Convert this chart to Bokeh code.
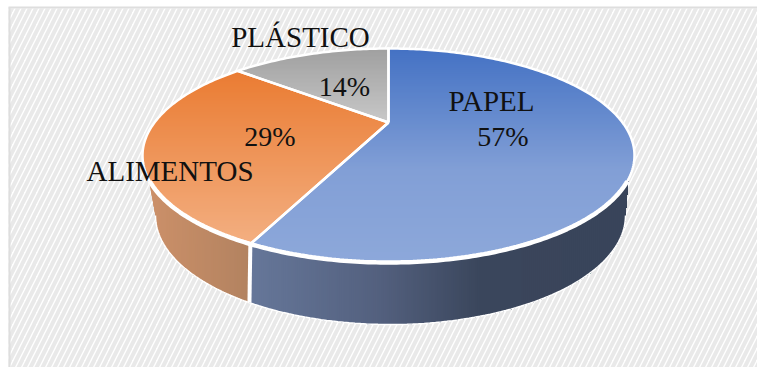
import math
from bokeh.plotting import figure
from bokeh.models import Range1d
from bokeh.core.properties import value
from bokeh.embed import file_html
from bokeh.resources import INLINE

# ---- data
categories = ["PAPEL", "ALIMENTOS", "PLÁSTICO"]
shares = [57, 29, 14]

# ---- layout / style (image pixel space)
TOP = dict(cx=388.0, cy=155.0, rx=246.0, ry=107.0, d=0.308)
LOW = dict(cx=390.0, cy=215.0, rx=235.0, ry=109.0, d=0.38)
TOP_STOPS = {
    "PAPEL": [(49, "#4472C4"), (170, "#829FD6"), (263, "#8DA8DA")],
    "ALIMENTOS": [(72, "#EA7C33"), (240, "#F3AE80")],
    "PLÁSTICO": [(49, "#A0A0A0"), (122, "#C8C8C8")],
}
SIDE_STOPS = {
    "PAPEL": [(250, "#667799"), (380, "#53607E"), (480, "#3A465C"), (640, "#39445A")],
    "ALIMENTOS": [(147, "#CC9069"), (252, "#B28260")],
}
SIDE_PHI = {"PAPEL": (103.0, 90.0), "ALIMENTOS": (257.0, 270.0)}
RIM_PHI = (104.0, 256.0)
LABEL_POS = {"PAPEL": (491, 100), "ALIMENTOS": (169.5, 170), "PLÁSTICO": (300, 36)}
PCT_POS = {"PAPEL": (502.5, 136), "ALIMENTOS": (269.5, 136), "PLÁSTICO": (344, 86)}
FONT = value("Liberation Serif")
NAME_SIZE = "29px"
PCT_SIZE = "28px"


def ell(g, X, Y):
    return (g["cx"] + g["rx"] * X, g["cy"] - g["ry"] * Y)


def to_disc(g, theta):
    """Pie angle (deg clockwise from top) -> normalised ellipse point under tilt."""
    t = math.radians(theta)
    X, Y, d = math.sin(t), math.cos(t), g["d"]
    k = 1 + d * Y
    return X * math.sqrt(1 - d * d) / k, (Y + d) / k


def rim(g, theta):
    return ell(g, *to_disc(g, theta))


def phi_of(g, theta):
    X, Y = to_disc(g, theta)
    return math.degrees(math.atan2(X, Y)) % 360


def arc_phi(g, a, b, n=90):
    pts = []
    for i in range(n + 1):
        f = math.radians(a + (b - a) * i / n)
        pts.append(ell(g, math.sin(f), math.cos(f)))
    return pts


def clip(poly, axis, limit):
    out = []
    for i, p in enumerate(poly):
        q = poly[(i + 1) % len(poly)]
        pin, qin = p[axis] >= limit, q[axis] >= limit
        if pin:
            out.append(p)
        if pin != qin:
            t = (limit - p[axis]) / (q[axis] - p[axis])
            out.append((p[0] + (q[0] - p[0]) * t, p[1] + (q[1] - p[1]) * t))
    return out


def lerp(stops, v):
    def rgb(h):
        return [int(h[i:i + 2], 16) for i in (1, 3, 5)]
    if v <= stops[0][0]:
        return stops[0][1]
    for (a, ca), (b, cb) in zip(stops, stops[1:]):
        if v <= b:
            t = (v - a) / (b - a)
            c = [round(x + (y - x) * t) for x, y in zip(rgb(ca), rgb(cb))]
            return "#%02x%02x%02x" % tuple(c)
    return stops[-1][1]


def add_banded(p, poly, stops, axis, step=2):
    vals = [q[axis] for q in poly]
    lo, hi = int(min(vals)) - 1, int(max(vals)) + 1
    xs, ys, cs = [], [], []
    for k in range(lo, hi, step):
        c = clip(poly, axis, k)
        if len(c) >= 3:
            xs.append([q[0] for q in c])
            ys.append([q[1] for q in c])
            cs.append(lerp(stops, k + step / 2))
    p.patches(xs, ys, fill_color=cs, line_color=None)


p = figure(width=757, height=367, x_range=Range1d(0, 757), y_range=Range1d(367, 0),
           toolbar_location=None, output_backend="svg", min_border=0,
           background_fill_color="white", outline_line_color=None)
p.axis.visible = False
p.grid.visible = False

# background with hatch and border
p.quad(left=[8], right=[757], top=[8], bottom=[367], fill_color="white", line_color=None,
       hatch_pattern="right_diagonal_line", hatch_color="#e9e9e9", hatch_scale=12, hatch_weight=4)
p.segment([8, 9], [7, 7], [757, 9], [7, 367], line_color="#dedede", line_width=2)

# slice bounds, clockwise from the top
total = sum(shares)
bounds = []
acc = 0
for s in shares:
    bounds.append((acc * 360 / total, (acc + s) * 360 / total))
    acc += s
theta_of = dict(zip(categories, bounds))

# extruded sides: PAPEL ends and ALIMENTOS starts at the same boundary
split = theta_of["PAPEL"][1]
phi_top, phi_low = phi_of(TOP, split), phi_of(LOW, split)
for cat in ["ALIMENTOS", "PAPEL"]:
    st, sl = SIDE_PHI[cat]
    poly = arc_phi(TOP, st, phi_top) + arc_phi(LOW, phi_low, sl)
    add_banded(p, poly, SIDE_STOPS[cat], 0)
    bot = arc_phi(LOW, sl, phi_low)
    p.line([q[0] for q in bot], [q[1] for q in bot], line_color="white", line_width=1.5)

a, b = rim(TOP, split), rim(LOW, split)
p.line([a[0], b[0]], [a[1], b[1]], line_color="white", line_width=4)

# top face
centre = ell(TOP, 0, TOP["d"])
for cat in categories:
    t0, t1 = theta_of[cat]
    n = max(2, int(t1 - t0))
    arc = [rim(TOP, t0 + (t1 - t0) * i / n) for i in range(n + 1)]
    add_banded(p, [centre] + arc, TOP_STOPS[cat], 1)
for cat in categories:
    t0, t1 = theta_of[cat]
    n = max(2, int(t1 - t0))
    arc = [rim(TOP, t0 + (t1 - t0) * i / n) for i in range(n + 1)]
    pts = [centre] + arc + [centre]
    p.line([q[0] for q in pts], [q[1] for q in pts], line_color="white", line_width=2.5,
           line_join="miter")
front = arc_phi(TOP, RIM_PHI[0], RIM_PHI[1], 160)
p.line([q[0] for q in front], [q[1] for q in front], line_color="white", line_width=4.5)

# labels
for cat, s in zip(categories, shares):
    for (x, y), txt, size in ((LABEL_POS[cat], cat, NAME_SIZE), (PCT_POS[cat], f"{s}%", PCT_SIZE)):
        p.text([x], [y], text=[txt], text_font=FONT, text_font_size=size, text_color="#111111",
               text_align="center", text_baseline="middle")

open("out.html", "w").write(file_html(p, INLINE))
